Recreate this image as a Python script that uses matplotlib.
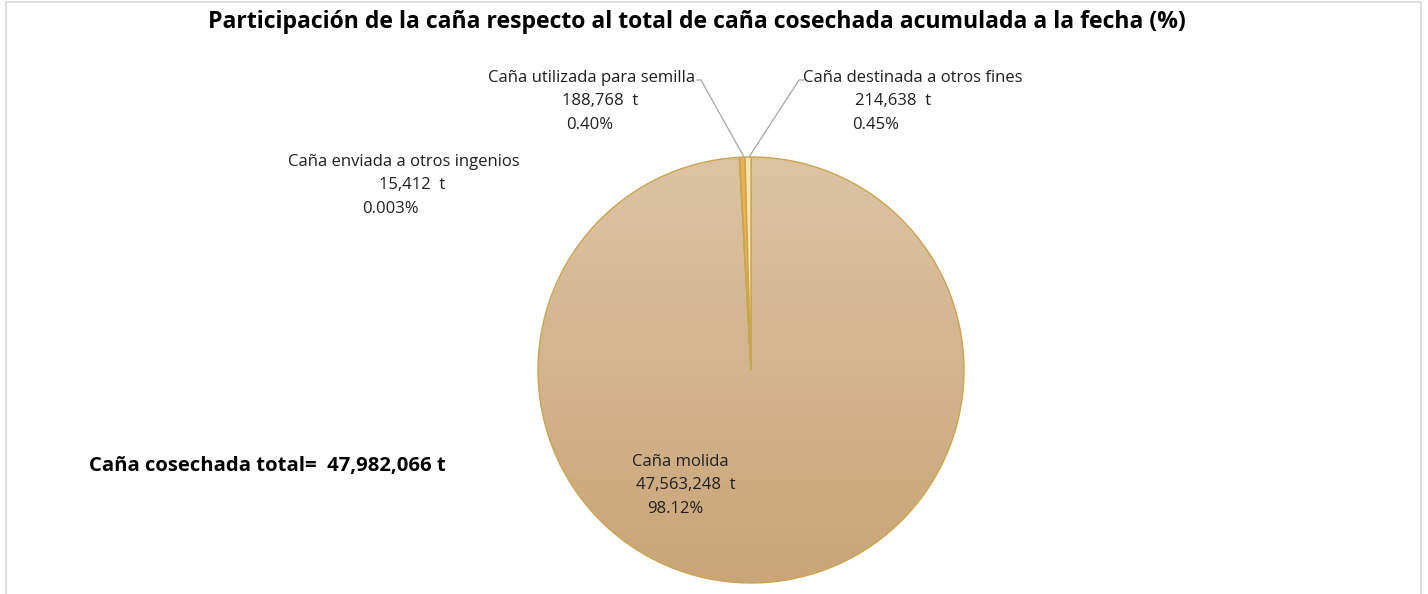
import numpy as np
import matplotlib
matplotlib.use("Agg")
import matplotlib.pyplot as plt
from matplotlib.patches import Rectangle

# data
categorias = ["Caña molida", "Caña enviada a otros ingenios",
              "Caña utilizada para semilla", "Caña destinada a otros fines"]
toneladas = [47563248, 15412, 188768, 214638]
porcentajes = ["98.12%", "0.003%", "0.40%", "0.45%"]
total = 47982066

colores = ["#D6BB95", "#E2A93A", "#E9B24C", "#FBE2B4"]

plt.rcParams["font.family"] = ["Open Sans", "DejaVu Sans"]

W, H = 1428, 594
fig = plt.figure(figsize=(W / 100, H / 100), dpi=100)
ax = fig.add_axes([0, 0, 1, 1])
ax.set_xlim(0, W)
ax.set_ylim(0, H)
ax.set_aspect("equal")
ax.axis("off")

def Y(y):
    return H - y

cx, cy, r = 751, Y(370), 213
wedges, _ = ax.pie(toneladas, colors=colores, startangle=90, counterclock=False,
                   center=(cx, cy), radius=r,
                   wedgeprops=dict(edgecolor="#C9A550", linewidth=1.0))
ax.set_xlim(0, W)
ax.set_ylim(0, H)

# gradient fill for the large slice
grad = np.linspace(0, 1, 256)[:, None]
cmap = matplotlib.colors.LinearSegmentedColormap.from_list("g", ["#DCC4A3", "#C9A578"])
im = ax.imshow(grad, cmap=cmap, extent=(cx - r, cx + r, cy - r, cy + r),
               origin="upper", aspect="auto", zorder=0.9)
im.set_clip_path(wedges[0])
wedges[0].set_facecolor("none")
wedges[0].set_zorder(1)

# frame
ax.add_patch(Rectangle((6, -5), 1415, Y(2) + 5, fill=False, edgecolor="#D9D9D9", lw=1.2))

ax.text(697, Y(22), "Participación de la caña respecto al total de caña cosechada acumulada a la fecha (%)",
        ha="center", va="center", fontsize=16.6, fontweight="bold", color="#000000")

fs = 12
tc = "#1f1f1f"
def etiqueta(x1, y1, x2, x3, i):
    ax.text(x1, Y(y1), categorias[i], ha="center", va="center", fontsize=fs, color=tc)
    ax.text(x2, Y(y1 + 23), f"{toneladas[i]:,}  t", ha="center", va="center", fontsize=fs, color=tc)
    ax.text(x3, Y(y1 + 47), porcentajes[i], ha="center", va="center", fontsize=fs, color=tc)

etiqueta(680, 462, 686, 675, 0)
etiqueta(404, 162, 412, 390, 1)
etiqueta(592, 78, 600, 590, 2)
etiqueta(913, 78, 893, 876, 3)

# leader lines
lc = "#A6A6A6"
ax.plot([697, 701, 744], [Y(80), Y(80), Y(157)], color=lc, lw=0.9)
ax.plot([804, 799, 749], [Y(80), Y(80), Y(157)], color=lc, lw=0.9)

ax.text(89, Y(466), f"Caña cosechada total=  {total:,} t", ha="left", va="center",
        fontsize=14.6, fontweight="bold", color="#000000")

fig.savefig("out.png", dpi=100)
